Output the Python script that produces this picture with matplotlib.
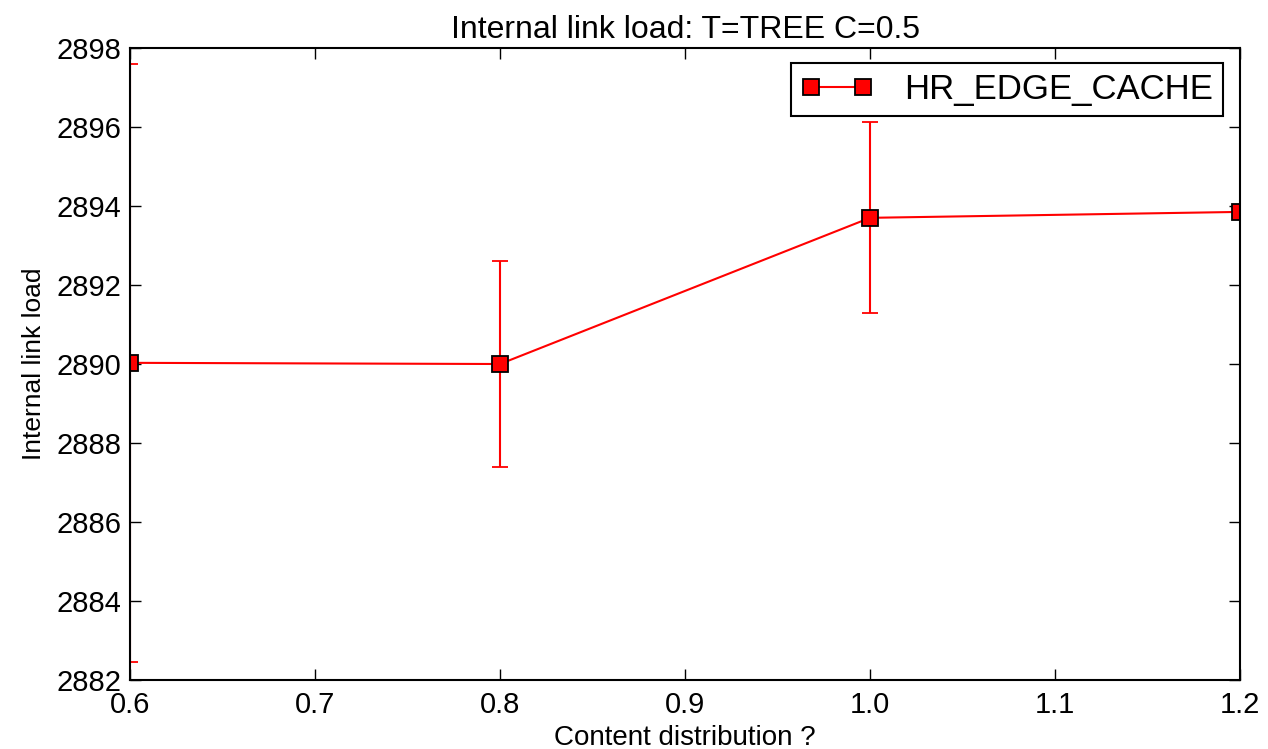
import matplotlib
matplotlib.use("Agg")
import matplotlib.pyplot as plt

x_vals = [0.6, 0.8, 1.0, 1.2]
y_vals = [2890.03, 2890.0, 2893.70, 2893.85]
y_err = [7.56, 2.6, 2.42, 0.0]
series_name = "HR_EDGE_CACHE"
x_ticks = [0.6, 0.7, 0.8, 0.9, 1.0, 1.1, 1.2]
y_ticks = [2882, 2884, 2886, 2888, 2890, 2892, 2894, 2896, 2898]

plt.rcParams['font.family'] = ['Liberation Sans', 'DejaVu Sans']

fig = plt.figure(figsize=(12.68, 7.49), dpi=100)
ax = fig.add_axes([0.1025, 0.092, 0.8755, 0.844])

eb = ax.errorbar(x_vals, y_vals, yerr=y_err, color='red', marker='s', markersize=11,
                 markerfacecolor='red', markeredgecolor='black', markeredgewidth=1.3,
                 linewidth=1.5, elinewidth=1.5, capsize=6, capthick=1.5)

ax.set_xlim(0.6, 1.2)
ax.set_ylim(2882, 2898)
ax.set_xticks(x_ticks)
ax.set_xticklabels([f"{v:.1f}" for v in x_ticks])
ax.set_yticks(y_ticks)
ax.set_yticklabels([str(v) for v in y_ticks])
ax.tick_params(direction='in', top=True, right=True, length=8, width=1, labelsize=21)
ax.tick_params(axis='x', pad=8)
ax.tick_params(axis='y', pad=6)
for s in ax.spines.values():
    s.set_linewidth(1.5)

ax.set_title("Internal link load: T=TREE C=0.5", fontsize=23, pad=7)
ax.set_xlabel("Content distribution ?", fontsize=20, labelpad=4)
ax.set_ylabel("Internal link load", fontsize=19, labelpad=8)

leg = ax.legend([eb.lines[0]], [series_name], loc='upper right', numpoints=2,
                fontsize=25, fancybox=False, framealpha=1, edgecolor='black',
                handlelength=2.1, borderpad=0.28, handletextpad=0.9,
                borderaxespad=0, bbox_to_anchor=(0.9847, 0.976))
leg.get_frame().set_linewidth(1.5)

fig.savefig("out.png", dpi=100)
